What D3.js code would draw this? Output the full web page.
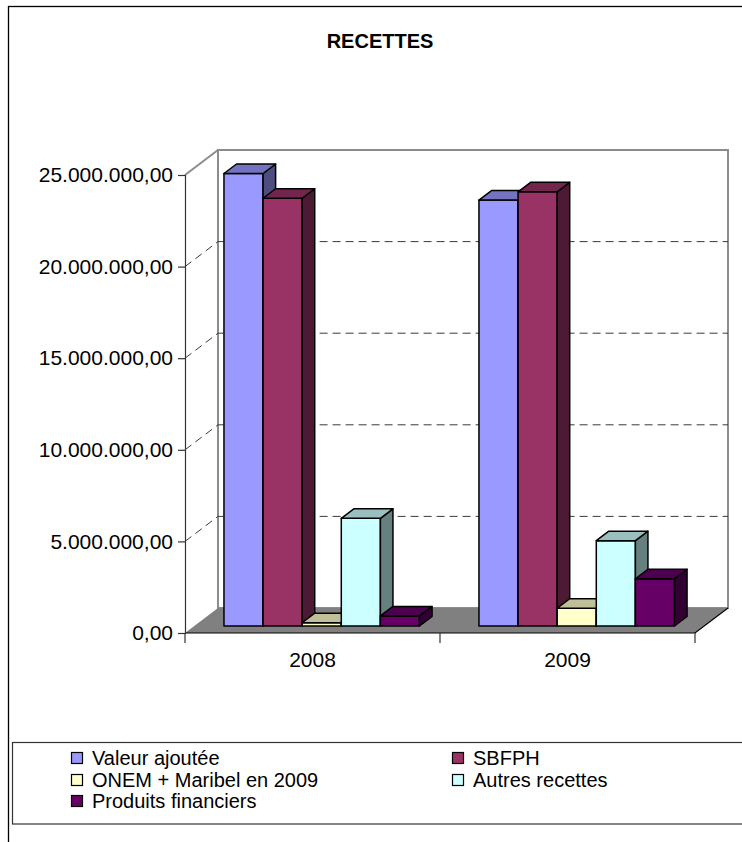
<!DOCTYPE html>
<html>
<head>
<meta charset="utf-8">
<script src="https://cdn.jsdelivr.net/npm/d3@7/dist/d3.min.js"></script>
<style>
  html, body { margin: 0; padding: 0; background: #fff; }
  svg { display: block; font-family: "Liberation Sans", Arial, sans-serif; }
</style>
</head>
<body>
<svg id="chart" width="742" height="842"></svg>
<script>
// Receipts per year, split by source
const years = ["2008", "2009"];
const seriesNames = ["Valeur ajoutée", "SBFPH", "ONEM + Maribel en 2009", "Autres recettes", "Produits financiers"];
const valeurAjoutee = [24700000, 23250000];
const sbfph = [23350000, 23700000];
const onemMaribel = [180000, 970000];
const autresRecettes = [5880000, 4660000];
const produitsFinanciers = [550000, 2580000];
const seriesColors = ["#9999FF", "#993366", "#FFFFCC", "#CCFFFF", "#660066"];
const yTickValues = [0, 5000000, 10000000, 15000000, 20000000, 25000000];

const seriesValues = [valeurAjoutee, sbfph, onemMaribel, autresRecettes, produitsFinanciers];

const svg = d3.select("#chart");

// Belgian number format: 25.000.000,00
const locale = d3.formatLocale({ decimal: ",", thousands: ".", grouping: [3], currency: ["", " €"] });
const fmt = locale.format(",.2f");

// 3D box: front plane plus a receding depth vector
const DX = 33, DY = -25;
const y = d3.scaleLinear().domain([0, 25000000]).range([633, 175]);
const x = d3.scaleBand().domain(years).range([185, 695]);
const xs = d3.scaleBand().domain(seriesNames).range([0, x.bandwidth()])
  .paddingInner(0).paddingOuter(0.76);
const D0 = 0.28, D1 = 0.66; // depth slice occupied by the columns

const P = (px, v, d) => [px + d * DX, y(v) + d * DY];
const poly = pts => "M" + pts.map(p => p.join(",")).join("L") + "Z";
const shade = (c, k) => { const r = d3.rgb(c); return d3.rgb(r.r * k, r.g * k, r.b * k).formatHex(); };

const x0 = x.range()[0], x1 = x.range()[1];
const vMax = y.domain()[1];

// Outer frame
svg.append("rect").attr("x", 8.5).attr("y", 6.5).attr("width", 900).attr("height", 900)
  .attr("fill", "none").attr("stroke", "#000").attr("stroke-width", 1.3);

// Title
svg.append("text").attr("x", 380).attr("y", 48).attr("text-anchor", "middle")
  .attr("font-size", 20).attr("font-weight", "bold").text("RECETTES");

// Walls
const walls = svg.append("g");
walls.append("path")
  .attr("d", poly([P(x0, vMax, 0), P(x0, vMax, 1), P(x0, 0, 1), P(x0, 0, 0)]))
  .attr("fill", "#fff").attr("stroke", "none");
walls.append("path")
  .attr("d", poly([P(x0, vMax, 1), P(x1, vMax, 1), P(x1, 0, 1), P(x0, 0, 1)]))
  .attr("fill", "#fff").attr("stroke", "#8c8c8c").attr("stroke-width", 2);
walls.append("path")
  .attr("d", "M" + P(x0, vMax, 0).join(",") + "L" + P(x0, vMax, 1).join(","))
  .attr("stroke", "#8c8c8c").attr("stroke-width", 2).attr("fill", "none");

// Dashed gridlines on side and back walls
const grid = yTickValues.filter(v => v > 0 && v < vMax);
walls.selectAll("path.gs").data(grid).join("path").attr("class", "gs")
  .attr("d", v => "M" + P(x0, v, 0).join(",") + "L" + P(x0, v, 1).join(",") + "L" + P(x1, v, 1).join(","))
  .attr("fill", "none").attr("stroke", "#3a3a3a").attr("stroke-width", 1).attr("stroke-dasharray", "8,5");

// Floor
svg.append("path")
  .attr("d", poly([P(x0, 0, 0), P(x1, 0, 0), P(x1, 0, 1), P(x0, 0, 1)]))
  .attr("fill", "#808080");
svg.append("path")
  .attr("d", "M" + P(x0, 0, 0).join(",") + "L" + P(x1, 0, 0).join(",") + "L" + P(x1, 0, 1).join(","))
  .attr("fill", "none").attr("stroke", "#000").attr("stroke-width", 1.2);

// Value axis
const yAxis = svg.append("g").attr("transform", `translate(${x0},0)`)
  .call(d3.axisLeft(y).tickValues(yTickValues).tickFormat(fmt).tickSize(7).tickPadding(5));
yAxis.select(".domain").attr("stroke", "#333").attr("stroke-width", 1.2);
yAxis.selectAll(".tick line").attr("stroke", "#333").attr("stroke-width", 1.2);
yAxis.selectAll(".tick text").attr("font-size", 21).attr("fill", "#000")
  .attr("font-family", "'Liberation Sans', Arial, sans-serif");

// Category axis: ticks between categories, labels centred
const xg = svg.append("g");
const bounds = years.map(d => x(d)).concat([x1]);
xg.selectAll("line").data(bounds).join("line")
  .attr("x1", d => d).attr("x2", d => d).attr("y1", y(0)).attr("y2", y(0) + 10)
  .attr("stroke", "#333").attr("stroke-width", 1.2);
xg.selectAll("text").data(years).join("text")
  .attr("x", d => x(d) + x.bandwidth() / 2).attr("y", y(0) + 34)
  .attr("text-anchor", "middle").attr("font-size", 21).text(d => d);

// Columns, drawn left to right so each covers its neighbour's side face
const bars = [];
years.forEach((yr, ci) => {
  seriesNames.forEach((s, si) => {
    bars.push({ xl: x(yr) + xs(s), xr: x(yr) + xs(s) + xs.bandwidth(), v: seriesValues[si][ci], c: seriesColors[si] });
  });
});
const bg = svg.append("g").attr("stroke", "#000").attr("stroke-width", 1.5).attr("stroke-linejoin", "round");
bars.forEach(b => {
  const g = bg.append("g");
  g.append("path").attr("d", poly([P(b.xl, 0, D0), P(b.xr, 0, D0), P(b.xr, b.v, D0), P(b.xl, b.v, D0)])).attr("fill", b.c);
  g.append("path").attr("d", poly([P(b.xr, 0, D0), P(b.xr, 0, D1), P(b.xr, b.v, D1), P(b.xr, b.v, D0)])).attr("fill", shade(b.c, 0.5));
  g.append("path").attr("d", poly([P(b.xl, b.v, D0), P(b.xr, b.v, D0), P(b.xr, b.v, D1), P(b.xl, b.v, D1)])).attr("fill", shade(b.c, 0.75));
});

// Legend
const lg = svg.append("g");
lg.append("rect").attr("x", 12.5).attr("y", 742.5).attr("width", 900).attr("height", 81.5)
  .attr("fill", "#fff").attr("stroke", "#333").attr("stroke-width", 1.2);
const legendPos = [[71, 765], [452, 765], [71, 787], [452, 787], [71, 808]];
seriesNames.forEach((s, i) => {
  const [lx, ly] = legendPos[i];
  lg.append("rect").attr("x", lx + 0.5).attr("y", ly - 12.5).attr("width", 11).attr("height", 11)
    .attr("fill", seriesColors[i]).attr("stroke", "#000").attr("stroke-width", 1.2);
  lg.append("text").attr("x", lx + 21).attr("y", ly).attr("font-size", 20).text(s);
});
</script>
</body>
</html>
